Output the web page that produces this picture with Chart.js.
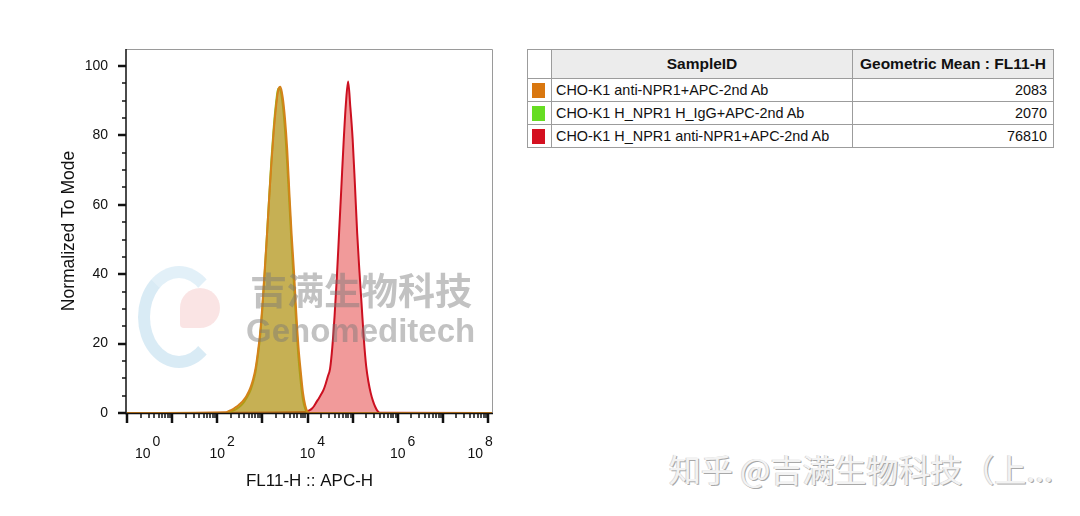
<!DOCTYPE html>
<html>
<head>
<meta charset="utf-8">
<script src="https://cdn.jsdelivr.net/npm/chart.js@4.4.0/dist/chart.umd.min.js"></script>
<style>
  body { margin: 0; background: #fff; font-family: "Liberation Sans", Arial, sans-serif; }
  #wrap { position: relative; width: 1080px; height: 516px; overflow: hidden; }
  #histo { position: absolute; left: 0; top: 0; }
  #stats { position: absolute; left: 527px; top: 49px; border-collapse: collapse; font-size: 14.4px; color: #111; }
  #stats td, #stats th { border: 1px solid #9c9c9c; padding: 0 6px 0 4px; white-space: nowrap; }
  #stats th { background: #ececec; font-weight: bold; font-size: 15.5px; height: 28px; padding: 0 4px; }
  #stats th.blank { background: #fff; }
  #stats td { height: 22px; }
  #stats td.num { text-align: right; }
  .sw { display: block; width: 13px; height: 15px; margin: 0 auto; }
  .wm { position: absolute; font-weight: bold; color: rgba(120,120,120,0.45); pointer-events: none; white-space: nowrap; }
  .logoA { position: absolute; left: 138px; top: 266px; width: 58px; height: 78px; border-radius: 50%;
           border: 12px solid rgba(160,205,230,0.4); border-right-color: transparent; border-top-color: rgba(160,205,230,0.3); }
  .logoB { position: absolute; left: 180px; top: 288px; width: 40px; height: 40px; border-radius: 50% 50% 50% 10%;
           background: rgba(240,165,165,0.3); }
  #zh { position: absolute; left: 669px; top: 452px; font-family: "Noto Sans CJK SC", sans-serif; font-size: 32px; line-height: 32px;
        color: #f3f3f3; text-shadow: 1px 1px 0 #a8a8a8, -1px 0 0 #d8d8d8; white-space: nowrap; }
</style>
</head>
<body>
<div id="wrap">
  <canvas id="histo" width="520" height="516"></canvas>
  <div class="logoA"></div>
  <div class="logoB"></div>
  <div class="wm" style="left:250px; top:262px; font-size:37px; font-family:'Noto Sans CJK SC';">吉满生物科技</div>
  <div class="wm" style="left:246px; top:312px; font-size:33px;">Genomeditech</div>
  <table id="stats">
    <tr><th class="blank" style="width:10px"></th><th style="width:292px">SampleID</th><th style="width:192px">Geometric Mean : FL11-H</th></tr>
  </table>
  <div id="zh">知乎 @吉满生物科技（上...</div>
</div>
<script>
// sample names, colours and geometric means from the table
var sampleNames = ["CHO-K1 anti-NPR1+APC-2nd Ab", "CHO-K1 H_NPR1 H_IgG+APC-2nd Ab", "CHO-K1 H_NPR1 anti-NPR1+APC-2nd Ab"];
var geoMeans = [2083, 2070, 76810];
var lineColors = ["#d4821a", "#8cc21e", "#cc1020"];
var fillColors = ["rgba(212,118,15,0.48)", "rgba(110,200,30,0.48)", "rgba(225,30,30,0.45)"];
var swatchColors = ["#d9770f", "#66dd22", "#d41020"];

// FL11-H channel values (bins)
var lowBins = [1, 158, 178, 200, 224, 251, 282, 316, 355, 398, 447, 501, 562, 631, 708, 794, 891,
  1000, 1122, 1259, 1413, 1585, 1778, 1995, 2239, 2512, 2818, 3162, 3548, 3981, 4467, 5012, 5623,
  6310, 7079, 7943, 8913, 10000, 11220, 129000000];
var highBins = [1, 8913, 10000, 11220, 12589, 14125, 15849, 17783, 19953, 22387, 25119, 28184, 31623,
  35481, 39811, 44668, 50119, 56234, 63096, 70795, 79433, 89125, 100000, 112202, 125893, 141254,
  158489, 177828, 199526, 223872, 251189, 281838, 316228, 354813, 398107, 129000000];

// normalized to mode (%)
var antiNpr1Ctrl = [0, 0.2, 0.5, 0.8, 1.1, 1.6, 2.0, 2.6, 3.2, 4.0, 5.0, 6.2, 7.8, 10, 13, 17.5, 23, 31, 41,
  51, 62, 72, 81, 88, 93, 94, 91, 85, 76, 63, 51, 41, 29, 19, 12, 5.8, 2.2, 0.4, 0, 0];
var igg = [0, 0, 0.2, 0.4, 0.7, 1.0, 1.4, 1.9, 2.5, 3.3, 4.3, 5.5, 7.0, 9.2, 12, 16.5, 22, 30, 40,
  51, 62, 73, 82, 89, 93.5, 93, 89, 82, 72, 60, 48, 37, 26, 16, 9, 3.8, 1.2, 0.2, 0, 0];
var antiNpr1 = [0, 0.3, 0.5, 0.8, 1.3, 2.1, 3.2, 4.2, 5.3, 6.5, 8.3, 10.5, 12.8, 19, 28, 39, 52, 65, 78,
  89, 95.5, 88, 79, 66, 52, 41, 31, 21, 13.5, 9, 5.8, 3.5, 1.8, 0.6, 0.1, 0];

var xLabelExps = [0, 2, 4, 6, 8];
var yLabelTicks = [0, 20, 40, 60, 80, 100];

// table rows
var tbl = document.getElementById("stats");
for (var i = 0; i < sampleNames.length; i++) {
  var tr = document.createElement("tr");
  tr.innerHTML = '<td><span class="sw" style="background:' + swatchColors[i] + '"></span></td><td>' +
    sampleNames[i] + '</td><td class="num">' + geoMeans[i] + '</td>';
  tbl.appendChild(tr);
}

function pts(xs, ys) {
  return xs.map(function (x, i) { return { x: x, y: ys[i] }; });
}

// frame, tick marks and the 10^n labels
var axisDecor = {
  id: "axisDecor",
  afterDraw: function (chart) {
    var ctx = chart.ctx, a = chart.chartArea, x = chart.scales.x, y = chart.scales.y;
    ctx.save();
    ctx.strokeStyle = "#9a9a9a";
    ctx.lineWidth = 1;
    ctx.beginPath();
    ctx.moveTo(a.left, a.top + 0.5);
    ctx.lineTo(a.right - 0.5, a.top + 0.5);
    ctx.lineTo(a.right - 0.5, a.bottom);
    ctx.stroke();

    ctx.strokeStyle = "#111";
    ctx.lineWidth = 1.5;
    ctx.beginPath();
    ctx.moveTo(a.left, a.top);
    ctx.lineTo(a.left, a.bottom + 0.5);
    ctx.lineTo(a.right, a.bottom + 0.5);
    ctx.stroke();

    // y ticks every 5, long ones every 20
    for (var v = 0; v <= 100; v += 5) {
      var py = Math.round(y.getPixelForValue(v));
      var major = yLabelTicks.indexOf(v) >= 0;
      ctx.lineWidth = major ? 2.5 : 1.5;
      ctx.beginPath();
      ctx.moveTo(a.left - (major ? 8 : 4), py);
      ctx.lineTo(a.left, py);
      ctx.stroke();
    }

    // x log ticks
    for (var d = 0; d <= 8; d++) {
      for (var k = 1; k <= 9; k++) {
        var val = k * Math.pow(10, d);
        if (val > x.max) break;
        var px = Math.round(x.getPixelForValue(val));
        ctx.lineWidth = k === 1 ? 2.5 : 1.5;
        ctx.beginPath();
        ctx.moveTo(px, a.bottom);
        ctx.lineTo(px, a.bottom + (k === 1 ? 10 : 5));
        ctx.stroke();
      }
    }

    ctx.fillStyle = "#111";
    ctx.textBaseline = "alphabetic";
    ctx.textAlign = "left";
    xLabelExps.forEach(function (e, i) {
      var px = x.getPixelForValue(Math.pow(10, e));
      ctx.font = "14px 'Liberation Sans', Arial";
      var w = ctx.measureText("10").width;
      var left = px - w / 2;
      if (i === 0) left = px + 8;
      if (i === xLabelExps.length - 1) left = px - w - 5;
      ctx.fillText("10", left, 458);
      ctx.fillText(String(e), left + w + 2, 446);
    });
    ctx.restore();
  }
};

var histo = new Chart(document.getElementById("histo").getContext("2d"), {
  type: "line",
  data: {
    datasets: [
      { label: sampleNames[0], data: pts(lowBins, antiNpr1Ctrl), borderColor: lineColors[0], backgroundColor: fillColors[0] },
      { label: sampleNames[1], data: pts(lowBins, igg), borderColor: lineColors[1], backgroundColor: fillColors[1] },
      { label: sampleNames[2], data: pts(highBins, antiNpr1), borderColor: lineColors[2], backgroundColor: fillColors[2] }
    ]
  },
  options: {
    responsive: false,
    animation: false,
    elements: {
      point: { radius: 0 },
      line: { borderWidth: 2, fill: "origin", cubicInterpolationMode: "monotone" }
    },
    layout: { padding: { left: 0, top: 49, right: 27, bottom: 0 } },
    plugins: { legend: { display: false }, tooltip: { enabled: false } },
    scales: {
      x: {
        type: "logarithmic",
        min: 0.95,
        max: 129000000,
        grid: { display: false, drawTicks: false },
        border: { display: false },
        ticks: { display: false },
        title: { display: true, text: "FL11-H :: APC-H", color: "#111",
                 font: { size: 17, family: "'Liberation Sans', Arial" }, padding: { top: 0, bottom: 24 } },
        afterFit: function (s) { s.height = 103; }
      },
      y: {
        min: 0,
        max: 104.9,
        grid: { display: false, drawTicks: false },
        border: { display: false },
        ticks: {
          stepSize: 20,
          padding: 18,
          color: "#111",
          font: { size: 14, family: "'Liberation Sans', Arial" },
          callback: function (v) { return yLabelTicks.indexOf(v) >= 0 ? v : ""; }
        },
        title: { display: true, text: "Normalized To Mode", color: "#111",
                 font: { size: 17.5, family: "'Liberation Sans', Arial" }, padding: { top: 59, bottom: 0 } },
        afterFit: function (s) { s.width = 126; }
      }
    }
  },
  plugins: [axisDecor]
});
</script>
</body>
</html>
